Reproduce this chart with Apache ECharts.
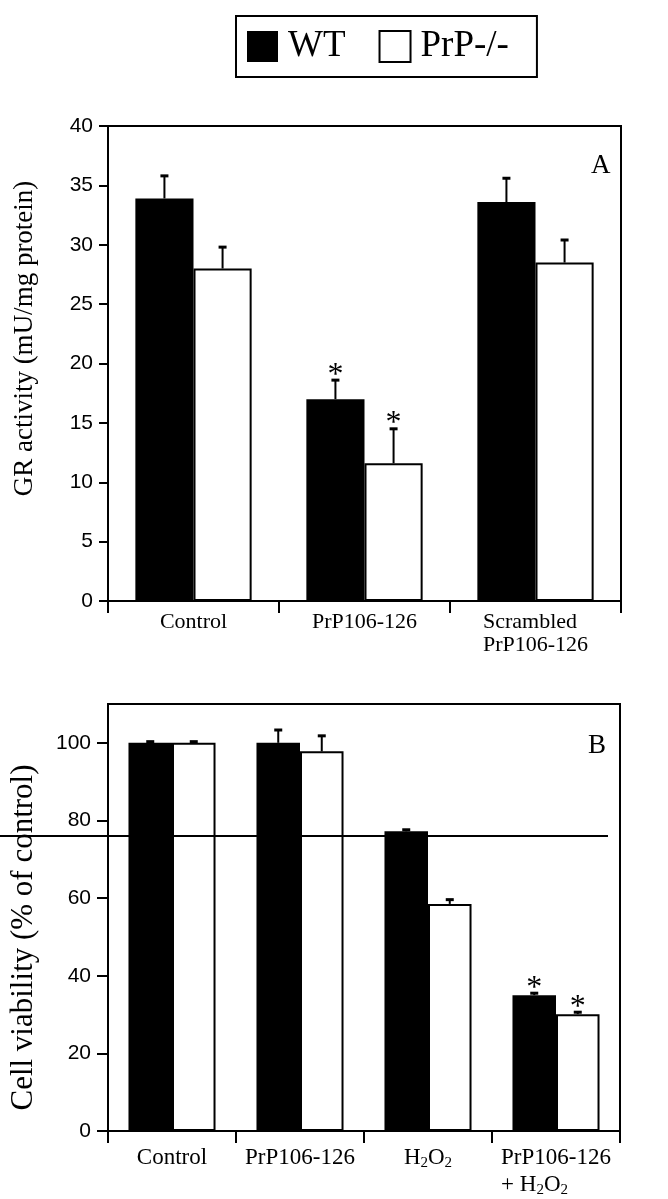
<!DOCTYPE html>
<html>
<head>
<meta charset="utf-8">
<script src="https://cdn.jsdelivr.net/npm/echarts@6/dist/echarts.min.js"></script>
<style>
  html, body { margin: 0; padding: 0; background: #fff; }
  #chart { width: 668px; height: 1199px; }
</style>
</head>
<body>
<div id="chart"></div>
<script>
// ---- Data ----
const seriesNames = ['WT', 'PrP-/-'];

// Panel A: GR activity (mU/mg protein)
const catsA = ['Control', 'PrP106-126', 'Scrambled\nPrP106-126'];
const wtA = [33.9, 17.0, 33.6];
const wtAErr = [1.9, 1.6, 2.0];
const wtASig = [0, 1, 0];
const koA = [28.0, 11.6, 28.5];
const koAErr = [1.8, 2.9, 1.9];
const koASig = [0, 1, 0];
const ticksA = [0, 5, 10, 15, 20, 25, 30, 35, 40];

// Panel B: Cell viability (% of control)
const catsB = ['Control', 'PrP106-126', 'H2O2', 'PrP106-126\n+ H2O2'];
const wtB = [100, 100, 77.2, 35.0];
const wtBErr = [0.3, 3.3, 0.4, 0.5];
const wtBSig = [0, 0, 0, 1];
const koB = [100, 97.8, 58.5, 30.1];
const koBErr = [0.3, 4.0, 1.1, 0.5];
const koBSig = [0, 0, 0, 1];
const ticksB = [0, 20, 40, 60, 80, 100];
const thresholdB = 76;

// ---- Styling ----
const SERIF = 'Liberation Serif';
const SANS = 'Liberation Sans';
const GAP = 0.32;

function catLabel(v) {
  // render H2O2 with subscripts, keep lines left aligned
  return v.split('\n').map(line => {
    return line.split(/(H2O2)/).map(part => {
      if (part === 'H2O2') return '{t|H}{s|2}{t|O}{s|2}';
      if (part === '') return '';
      return '{t|' + part + '}';
    }).join('');
  }).join('\n');
}

function errSeries(values, errs, sigs, side, axisIdx) {
  return {
    type: 'custom',
    xAxisIndex: axisIdx,
    yAxisIndex: axisIdx,
    z: 5,
    silent: true,
    data: values.map((v, i) => [i, v, errs[i], sigs[i]]),
    renderItem: function (params, api) {
      const i = api.value(0), v = api.value(1), e = api.value(2), s = api.value(3);
      const base = api.coord([i, v]);
      const top = api.coord([i, v + e]);
      const band = api.size([1, 0])[0];
      const bw = band * (1 - GAP) / 2;
      const x = base[0] + side * bw / 2;
      const children = [
        { type: 'line', shape: { x1: x, y1: base[1], x2: x, y2: top[1] },
          style: { stroke: '#000', lineWidth: 2 } },
        { type: 'line', shape: { x1: x - 4, y1: top[1], x2: x + 4, y2: top[1] },
          style: { stroke: '#000', lineWidth: 3 } }
      ];
      if (s) {
        children.push({ type: 'text', x: x, y: top[1] + 11,
          style: { text: '*', font: '32px "' + SERIF + '"', fill: '#000',
                   align: 'center', verticalAlign: 'bottom' } });
      }
      return { type: 'group', children: children };
    }
  };
}

const richA = {
  t: { fontFamily: SERIF, fontSize: 22, lineHeight: 23, color: '#000', align: 'left' },
  s: { fontFamily: SERIF, fontSize: 14, lineHeight: 16, color: '#000', align: 'left', verticalAlign: 'bottom' }
};
const richB = {
  t: { fontFamily: SERIF, fontSize: 23, lineHeight: 27, color: '#000', align: 'left' },
  s: { fontFamily: SERIF, fontSize: 15, lineHeight: 18, color: '#000', align: 'left', verticalAlign: 'bottom' }
};

const axisLine = { show: true, lineStyle: { color: '#000', width: 2 } };

const option = {
  backgroundColor: '#fff',
  animation: false,
  legend: {
    data: seriesNames,
    left: 236, top: 16,
    padding: [12, 28, 12, 11],
    itemWidth: 31, itemHeight: 31, itemGap: 33,
    icon: 'rect',
    borderColor: '#000', borderWidth: 2,
    textStyle: { fontFamily: SERIF, fontSize: 37, color: '#000', padding: [0, 0, 0, 5] }
  },
  title: [
    { text: 'A', left: 586, top: 147, textStyle: { fontFamily: SERIF, fontSize: 27, fontWeight: 'normal', color: '#000' } },
    { text: 'B', left: 583, top: 727, textStyle: { fontFamily: SERIF, fontSize: 27, fontWeight: 'normal', color: '#000' } }
  ],
  grid: [
    { left: 108, right: 47, top: 126, bottom: 598, show: true, borderColor: '#000', borderWidth: 2 },
    { left: 107, right: 48, top: 704, bottom: 68, show: true, borderColor: '#000', borderWidth: 2 }
  ],
  xAxis: [
    { type: 'category', gridIndex: 0, data: catsA,
      axisLine: axisLine,
      axisTick: { show: true, length: 12, lineStyle: { color: '#000', width: 2 } },
      axisLabel: { interval: 0, margin: 10, formatter: catLabel, rich: richA } },
    { type: 'category', gridIndex: 1, data: catsB,
      axisLine: axisLine,
      axisTick: { show: true, length: 12, lineStyle: { color: '#000', width: 2 } },
      axisLabel: { interval: 0, margin: 13, formatter: catLabel, rich: richB } }
  ],
  yAxis: [
    { type: 'value', gridIndex: 0, min: 0, max: 40, interval: 5,
      name: 'GR activity (mU/mg protein)', nameLocation: 'middle', nameGap: 70,
      nameTextStyle: { fontFamily: SERIF, fontSize: 27, color: '#000', padding: [0, 0, 0, 50] },
      splitLine: { show: false },
      axisLine: axisLine,
      axisTick: { show: true, length: 9, lineStyle: { color: '#000', width: 2 }, customValues: ticksA },
      axisLabel: { margin: 15, fontFamily: SANS, fontSize: 21, color: '#000', customValues: ticksA } },
    { type: 'value', gridIndex: 1, min: 0, max: 110, interval: 20,
      name: 'Cell viability (% of control)', nameLocation: 'middle', nameGap: 69,
      nameTextStyle: { fontFamily: SERIF, fontSize: 31, color: '#000', padding: [0, 40, 0, 0] },
      splitLine: { show: false },
      axisLine: axisLine,
      axisTick: { show: true, length: 11, lineStyle: { color: '#000', width: 2 }, customValues: ticksB },
      axisLabel: { margin: 17, fontFamily: SANS, fontSize: 21, color: '#000', customValues: ticksB } }
  ],
  series: [
    { name: 'WT', type: 'bar', xAxisIndex: 0, yAxisIndex: 0, data: wtA,
      barGap: '0%', barCategoryGap: (GAP * 100) + '%',
      itemStyle: { color: '#000', borderColor: '#000', borderWidth: 0 } },
    { name: 'PrP-/-', type: 'bar', xAxisIndex: 0, yAxisIndex: 0, data: koA,
      barGap: '0%', barCategoryGap: (GAP * 100) + '%',
      itemStyle: { color: '#fff', borderColor: '#000', borderWidth: 2 } },
    { name: 'WT', type: 'bar', xAxisIndex: 1, yAxisIndex: 1, data: wtB,
      barGap: '0%', barCategoryGap: (GAP * 100) + '%',
      itemStyle: { color: '#000', borderColor: '#000', borderWidth: 0 } },
    { name: 'PrP-/-', type: 'bar', xAxisIndex: 1, yAxisIndex: 1, data: koB,
      barGap: '0%', barCategoryGap: (GAP * 100) + '%',
      itemStyle: { color: '#fff', borderColor: '#000', borderWidth: 2 } },
    errSeries(wtA, wtAErr, wtASig, -1, 0),
    errSeries(koA, koAErr, koASig, 1, 0),
    errSeries(wtB, wtBErr, wtBSig, -1, 1),
    errSeries(koB, koBErr, koBSig, 1, 1)
  ]
};

const chart = echarts.init(document.getElementById('chart'), null, { renderer: 'canvas' });
chart.setOption(option);

// Reference line in panel B and the small extension of each y-axis line below the x axis
const yLine = chart.convertToPixel({ yAxisIndex: 1 }, thresholdB);
const y0A = chart.convertToPixel({ yAxisIndex: 0 }, 0);
const y0B = chart.convertToPixel({ yAxisIndex: 1 }, 0);
const xA = chart.getModel().getComponent('grid', 0).coordinateSystem.getRect().x;
const xB = chart.getModel().getComponent('grid', 1).coordinateSystem.getRect().x;
chart.setOption({
  graphic: [
    { type: 'line', z: 100, shape: { x1: 0, y1: yLine, x2: 608, y2: yLine },
      style: { stroke: '#000', lineWidth: 2 } },
    { type: 'line', z: 100, shape: { x1: xA, y1: y0A, x2: xA, y2: y0A + 12 },
      style: { stroke: '#000', lineWidth: 2 } },
    { type: 'line', z: 100, shape: { x1: xB, y1: y0B, x2: xB, y2: y0B + 12 },
      style: { stroke: '#000', lineWidth: 2 } }
  ]
});
</script>
</body>
</html>
